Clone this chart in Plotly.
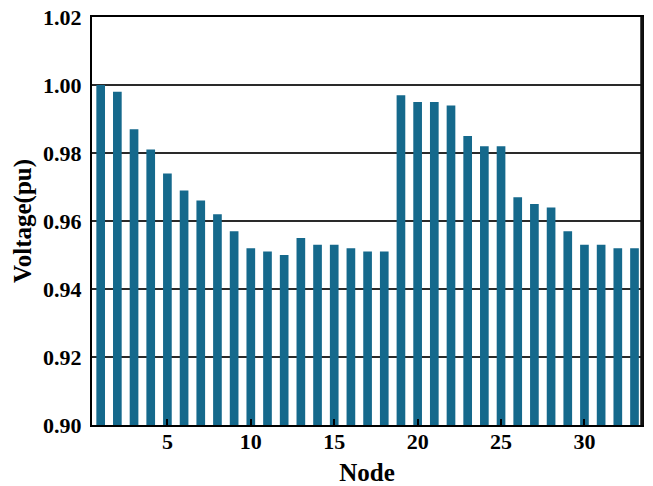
import plotly.graph_objects as go

nodes = list(range(1, 34))
voltage = [1.000, 0.998, 0.987, 0.981, 0.974, 0.969, 0.966, 0.962, 0.957, 0.952,
           0.951, 0.950, 0.955, 0.953, 0.953, 0.952, 0.951, 0.951, 0.997, 0.995,
           0.995, 0.994, 0.985, 0.982, 0.982, 0.967, 0.965, 0.964, 0.957, 0.953,
           0.953, 0.952, 0.952]
x_ticks = [5, 10, 15, 20, 25, 30]
y_ticks = [0.90, 0.92, 0.94, 0.96, 0.98, 1.00, 1.02]

font_family = "Liberation Serif, Times New Roman, serif"
base = 0.90

fig = go.Figure()
fig.add_trace(go.Bar(x=nodes, y=[v - base for v in voltage], base=base, width=0.52,
                     marker=dict(color="#15698c", line=dict(width=0))))

fig.update_layout(
    width=653, height=486,
    margin=dict(l=92, r=11, t=17, b=61),
    plot_bgcolor="white", paper_bgcolor="white",
    showlegend=False,
    font=dict(family=font_family, color="black"),
)
fig.update_xaxes(
    range=[0.48, 33.45], tickvals=x_ticks, ticktext=[str(t) for t in x_ticks],
    ticks="inside", ticklen=6, tickwidth=1.5, tickcolor="black",
    showline=True, linecolor="black", linewidth=2, mirror=True,
    showgrid=False, zeroline=False, automargin=False, ticklabelstandoff=-4,
    tickfont=dict(size=22, family=font_family, color="black", weight="bold"),
    title=dict(text="<b>Node</b>", font=dict(size=25, family=font_family), standoff=11),
)
fig.update_yaxes(
    range=[0.90, 1.02], tickvals=y_ticks, ticktext=[f"{t:.2f}" for t in y_ticks],
    ticks="", showline=True, linecolor="black", linewidth=2, mirror=True,
    showgrid=True, gridcolor="#2a2a2a", gridwidth=1.5, zeroline=False, automargin=False,
    ticklabelstandoff=4,
    tickfont=dict(size=22, family=font_family, color="black", weight="bold"),
    title=dict(text="<b>Voltage(pu)</b>", font=dict(size=25, family=font_family), standoff=4),
)
fig.add_shape(type="line", xref="paper", yref="paper", x0=1, x1=1, y0=0, y1=1,
              line=dict(color="#111", width=3.5))

fig.write_html("out.html")
